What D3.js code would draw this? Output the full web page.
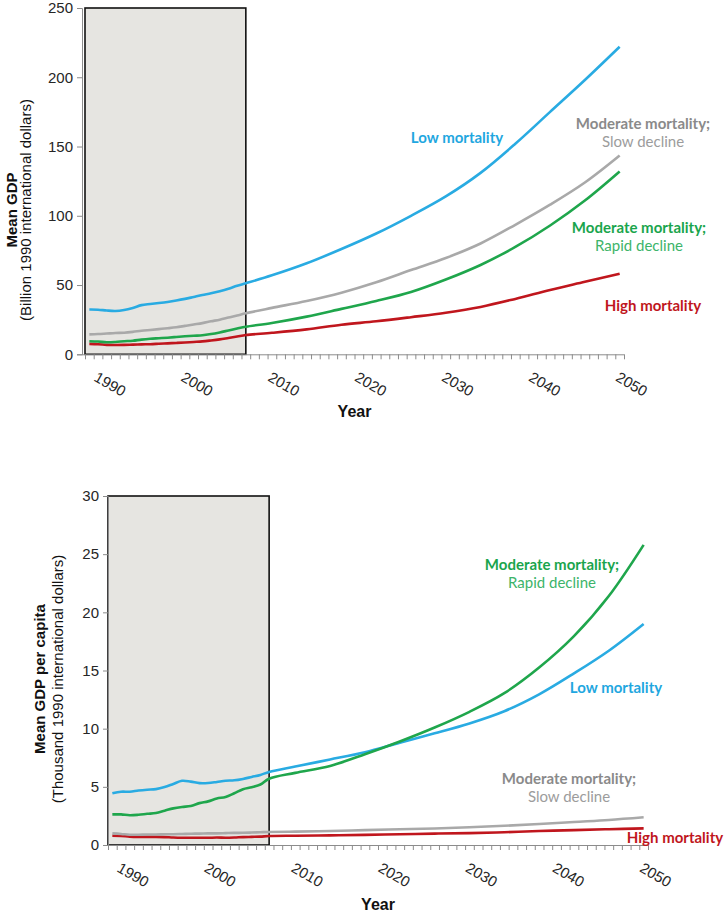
<!DOCTYPE html>
<html>
<head>
<meta charset="utf-8">
<script src="https://cdn.jsdelivr.net/npm/d3@7"></script>
<style>
  html, body { margin: 0; padding: 0; background: #fff; }
  svg { display: block; }
</style>
</head>
<body>
<svg id="chart" width="727" height="913"></svg>
<script>
// ---------------- DATA ----------------
const years = [1989,1990,1991,1992,1993,1994,1995,1996,1997,1998,1999,2000,2001,2002,2003,2004,2005,2006,2007,
               2010,2014,2018,2022,2026,2030,2034,2038,2042,2046,2050];

// Mean GDP (billion 1990 international dollars)
const gdpLow   = [32.3,32.2,31.6,31.3,32,33.5,35.5,36.3,37,37.8,38.8,40,41.4,42.8,44,45.5,47.3,49.5,51.3,
                  57,65.7,76,87.2,100,114,131,152,175,198,222];
const gdpSlow  = [14.4,14.6,15,15.4,15.6,16.2,17,17.6,18.2,18.8,19.5,20.5,21.5,22.5,23.8,25,26.5,28,29.6,
                  33.5,38.5,44.5,52,60.8,69.5,80,93.5,108,124,143.5];
const gdpRapid = [9.4,9.2,8.7,8.9,9.4,9.8,10.6,11.2,11.6,12,12.5,13,13.4,13.7,14.6,15.8,17.2,18.6,19.9,
                  22.6,27.2,32.8,38.5,45,54,64.5,77.5,93,111,132];
const gdpHigh  = [7.5,7.3,6.8,6.7,6.8,7,7.2,7.3,7.6,7.9,8.2,8.5,8.9,9.3,10,10.8,11.8,12.8,13.9,
                  15.5,18,21.3,23.8,26.8,30,34.2,40,46.4,52.3,58.2];

// Mean GDP per capita (thousand 1990 international dollars)
const pcLow   = [4.44,4.58,4.58,4.68,4.75,4.8,4.98,5.25,5.52,5.45,5.32,5.33,5.42,5.52,5.56,5.68,5.85,6.02,6.28,
                 6.75,7.35,7.98,8.8,9.6,10.45,11.5,12.95,14.75,16.7,19.0];
const pcRapid = [2.63,2.63,2.56,2.6,2.68,2.75,2.95,3.15,3.27,3.35,3.6,3.75,4.0,4.13,4.45,4.8,4.97,5.2,5.7,
                 6.2,6.8,7.8,8.9,10.1,11.45,13.05,15.25,17.95,21.4,25.8];
const pcSlow  = [1.0,0.95,0.88,0.88,0.9,0.9,0.92,0.93,0.95,0.97,0.98,1.0,1.0,1.02,1.04,1.05,1.07,1.1,1.12,
                 1.15,1.2,1.28,1.35,1.42,1.52,1.65,1.8,1.98,2.15,2.38];
const pcHigh  = [0.8,0.78,0.72,0.7,0.7,0.7,0.68,0.64,0.62,0.62,0.62,0.62,0.64,0.62,0.64,0.68,0.7,0.72,0.77,
                 0.8,0.83,0.87,0.92,0.98,1.02,1.1,1.2,1.28,1.36,1.43];

const xTickLabels = [1990,2000,2010,2020,2030,2040,2050];
const yTicksGdp = [0,50,100,150,200,250];
const yTicksPc  = [0,5,10,15,20,25,30];
const historyEnd = 2007;
const xDomain = [1988.5, 2050.5];

const seriesNames = {
  low:  ["Low mortality"],
  slow: ["Moderate mortality;", "Slow decline"],
  rapid:["Moderate mortality;", "Rapid decline"],
  high: ["High mortality"]
};

// ---------------- STYLE / LAYOUT ----------------
const colors = {
  low:  {line:"#29abe2", bold:"#1fa7e0", reg:"#1fa7e0"},
  slow: {line:"#a9a9a9", bold:"#8a8a8a", reg:"#9c9c9c"},
  rapid:{line:"#1fa64c", bold:"#1aa54c", reg:"#3db46a"},
  high: {line:"#c0161d", bold:"#c0161d", reg:"#c0161d"}
};

const charts = [
  {
    x0: 85, x1: 624, yTop: 8, yBot: 354.3, yMax: 250, axisX: 82,
    yTicks: yTicksGdp,
    series: {low: gdpLow, slow: gdpSlow, rapid: gdpRapid, high: gdpHigh},
    order: ["high","rapid","slow","low"],
    title: ["Mean GDP", "(Billion 1990 international dollars)"],
    titleX: [17, 31], titleY: 210,
    yearY: 417,
    labels: {
      low:  {x: 457, y: 143},
      slow: {x: 643, y: 129},
      rapid:{x: 639, y: 233},
      high: {x: 653, y: 311}
    }
  },
  {
    x0: 108, x1: 648, yTop: 496, yBot: 845, yMax: 30, axisX: 108,
    yTicks: yTicksPc,
    series: {low: pcLow, slow: pcSlow, rapid: pcRapid, high: pcHigh},
    order: ["high","slow","low","rapid"],
    title: ["Mean GDP per capita", "(Thousand 1990 international dollars)"],
    titleX: [45, 63], titleY: 679,
    yearY: 910,
    labels: {
      rapid:{x: 552, y: 570},
      low:  {x: 616, y: 693},
      slow: {x: 569, y: 784},
      high: {x: 675, y: 843}
    }
  }
];

const svg = d3.select("#chart");
const tickFont = "'Liberation Sans', Arial, sans-serif";
const labelFont = "Lato, 'Open Sans', sans-serif";

charts.forEach(c => {
  const g = svg.append("g");
  const x = d3.scaleLinear().domain(xDomain).range([c.x0, c.x1]);
  const y = d3.scaleLinear().domain([0, c.yMax]).range([c.yBot, c.yTop]);

  // shaded historical box
  g.append("rect")
    .attr("x", x(xDomain[0]))
    .attr("y", y(c.yMax))
    .attr("width", x(historyEnd) - x(xDomain[0]))
    .attr("height", y(0) - y(c.yMax))
    .attr("fill", "#e6e5e1")
    .attr("stroke", "#111")
    .attr("stroke-width", 1.6);

  // y axis
  const yAxis = d3.axisLeft(y).tickValues(c.yTicks).tickSize(5).tickPadding(4).tickFormat(d3.format("d"));
  const ya = g.append("g").attr("transform", `translate(${c.axisX},0)`).call(yAxis);
  ya.select(".domain").attr("stroke", "#8c8c8c").attr("stroke-width", 1);
  ya.selectAll(".tick line").attr("stroke", "#8c8c8c");
  ya.selectAll(".tick text").attr("font-family", tickFont).attr("font-size", 15).attr("fill", "#262626");

  // x axis (minor ticks at year boundaries)
  const boundaries = d3.range(xDomain[0], xDomain[1] + 0.01, 1);
  const xAxis = d3.axisBottom(x).tickValues(boundaries).tickSize(5).tickFormat("");
  const xa = g.append("g").attr("transform", `translate(0,${c.yBot})`).call(xAxis);
  xa.select(".domain").attr("stroke", "#8c8c8c").attr("stroke-width", 1)
    .attr("d", `M${c.axisX},0.5H${c.x1}`);
  xa.selectAll(".tick line").attr("stroke", "#8c8c8c");

  // rotated year labels
  g.selectAll("text.year")
    .data(xTickLabels)
    .join("text")
    .attr("class", "year")
    .attr("transform", d => `translate(${x(d) - 5},${c.yBot + 26}) rotate(30)`)
    .attr("font-family", tickFont)
    .attr("font-size", 15)
    .attr("fill", "#262626")
    .text(d => d);

  // axis titles
  g.append("text")
    .attr("x", (c.x0 + c.x1) / 2).attr("y", c.yearY)
    .attr("text-anchor", "middle")
    .attr("font-family", tickFont).attr("font-weight", "bold").attr("font-size", 16)
    .attr("fill", "#111")
    .text("Year");

  g.append("text")
    .attr("transform", `translate(${c.titleX[0]},${c.titleY}) rotate(-90)`)
    .attr("text-anchor", "middle")
    .attr("font-family", tickFont).attr("font-weight", "bold").attr("font-size", 15)
    .attr("fill", "#111")
    .text(c.title[0]);
  g.append("text")
    .attr("transform", `translate(${c.titleX[1]},${c.titleY}) rotate(-90)`)
    .attr("text-anchor", "middle")
    .attr("font-family", tickFont).attr("font-size", 15)
    .attr("fill", "#111")
    .text(c.title[1]);

  // lines
  const line = d3.line()
    .x(d => x(d[0]))
    .y(d => y(d[1]))
    .curve(d3.curveCatmullRom.alpha(0.5));

  c.order.forEach(key => {
    const vals = c.series[key];
    const pts = years.map((yr, i) => [yr, vals[i]]);
    g.append("path")
      .datum(pts)
      .attr("fill", "none")
      .attr("stroke", colors[key].line)
      .attr("stroke-width", 2.6)
      .attr("stroke-linejoin", "round")
      .attr("d", line);
  });

  // series labels
  Object.entries(c.labels).forEach(([key, pos]) => {
    const names = seriesNames[key];
    g.append("text")
      .attr("x", pos.x).attr("y", pos.y)
      .attr("text-anchor", "middle")
      .attr("font-family", labelFont)
      .attr("font-size", 15)
      .attr("font-weight", "bold")
      .attr("fill", colors[key].bold)
      .text(names[0]);
    if (names.length > 1) {
      g.append("text")
        .attr("x", pos.x).attr("y", pos.y + 18)
        .attr("text-anchor", "middle")
        .attr("font-family", labelFont)
        .attr("font-size", 15)
        .attr("fill", colors[key].reg)
        .text(names[1]);
    }
  });
});
</script>
</body>
</html>
